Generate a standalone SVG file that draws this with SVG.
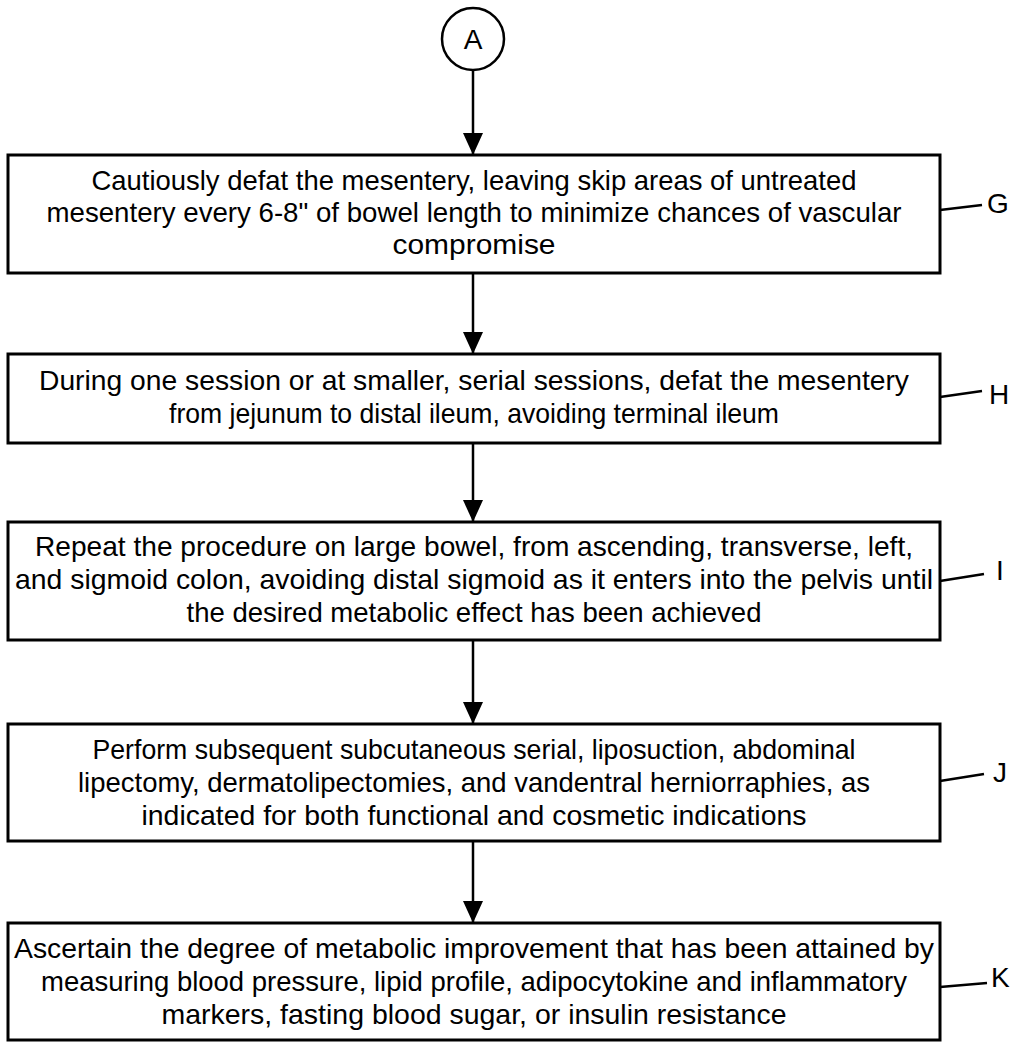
<svg xmlns="http://www.w3.org/2000/svg" width="1017" height="1043" viewBox="0 0 1017 1043">
<style>
.box{fill:#fff;stroke:#000;stroke-width:3}
.t{font-family:"Liberation Sans Narrow","Liberation Sans",Arial,sans-serif;font-size:28px;fill:#000;text-anchor:middle}
.lbl{font-family:"Liberation Sans",Arial,sans-serif;font-size:28px;fill:#000}
.con{stroke:#000;stroke-width:2.5;fill:none}
.lead{stroke:#000;stroke-width:2.5;fill:none}
</style>
<defs>
<marker id="ah" viewBox="0 0 22 20" refX="22" refY="10" markerWidth="22" markerHeight="20" markerUnits="userSpaceOnUse" orient="auto">
<path d="M0,0 L22,10 L0,20 Z" fill="#000"/>
</marker>
</defs>
<rect width="1017" height="1043" fill="#fff"/>
<g id="connectors">
<line class="con" x1="473" y1="70" x2="473" y2="155" marker-end="url(#ah)"/>
<line class="con" x1="473" y1="273" x2="473" y2="354" marker-end="url(#ah)"/>
<line class="con" x1="473" y1="443" x2="473" y2="522" marker-end="url(#ah)"/>
<line class="con" x1="473" y1="640" x2="473" y2="724" marker-end="url(#ah)"/>
<line class="con" x1="473" y1="841" x2="473" y2="923" marker-end="url(#ah)"/>
<line class="lead" x1="940" y1="210" x2="982" y2="205"/>
<line class="lead" x1="940" y1="397" x2="982" y2="391"/>
<line class="lead" x1="940" y1="581" x2="984" y2="574"/>
<line class="lead" x1="940" y1="781" x2="984" y2="774"/>
<line class="lead" x1="940" y1="987" x2="987" y2="983"/>
</g>
<g id="nodeA">
<circle cx="473" cy="39" r="31" fill="#fff" stroke="#000" stroke-width="2.5"/>
<text x="473" y="49" class="lbl" text-anchor="middle">A</text>
</g>
<g id="nodeG">
<rect class="box" x="8" y="155" width="932" height="118"/>
<text class="t" x="474" y="190" textLength="765" lengthAdjust="spacingAndGlyphs">Cautiously defat the mesentery, leaving skip areas of untreated</text>
<text class="t" x="474" y="222" textLength="855" lengthAdjust="spacingAndGlyphs">mesentery every 6-8" of bowel length to minimize chances of vascular</text>
<text class="t" x="474" y="254" textLength="163" lengthAdjust="spacingAndGlyphs">compromise</text>
<text class="lbl" x="987" y="213">G</text>
</g>
<g id="nodeH">
<rect class="box" x="8" y="354" width="932" height="89"/>
<text class="t" x="474" y="390" textLength="870" lengthAdjust="spacingAndGlyphs">During one session or at smaller, serial sessions, defat the mesentery</text>
<text class="t" x="474" y="423" textLength="610" lengthAdjust="spacingAndGlyphs">from jejunum to distal ileum, avoiding terminal ileum</text>
<text class="lbl" x="989" y="404">H</text>
</g>
<g id="nodeI">
<rect class="box" x="8" y="522" width="932" height="118"/>
<text class="t" x="474" y="556" textLength="878" lengthAdjust="spacingAndGlyphs">Repeat the procedure on large bowel, from ascending, transverse, left,</text>
<text class="t" x="474" y="589" textLength="918" lengthAdjust="spacingAndGlyphs">and sigmoid colon, avoiding distal sigmoid as it enters into the pelvis until</text>
<text class="t" x="474" y="622" textLength="575" lengthAdjust="spacingAndGlyphs">the desired metabolic effect has been achieved</text>
<text class="lbl" x="996" y="580">I</text>
</g>
<g id="nodeJ">
<rect class="box" x="8" y="724" width="932" height="117"/>
<text class="t" x="474" y="759" textLength="763" lengthAdjust="spacingAndGlyphs">Perform subsequent subcutaneous serial, liposuction, abdominal</text>
<text class="t" x="474" y="792" textLength="792" lengthAdjust="spacingAndGlyphs">lipectomy, dermatolipectomies, and vandentral herniorraphies, as</text>
<text class="t" x="474" y="825" textLength="665" lengthAdjust="spacingAndGlyphs">indicated for both functional and cosmetic indications</text>
<text class="lbl" x="993" y="782">J</text>
</g>
<g id="nodeK">
<rect class="box" x="8" y="923" width="932" height="117"/>
<text class="t" x="474" y="958" textLength="920" lengthAdjust="spacingAndGlyphs">Ascertain the degree of metabolic improvement that has been attained by</text>
<text class="t" x="474" y="991" textLength="866" lengthAdjust="spacingAndGlyphs">measuring blood pressure, lipid profile, adipocytokine and inflammatory</text>
<text class="t" x="474" y="1024" textLength="625" lengthAdjust="spacingAndGlyphs">markers, fasting blood sugar, or insulin resistance</text>
<text class="lbl" x="991" y="987">K</text>
</g>
</svg>
